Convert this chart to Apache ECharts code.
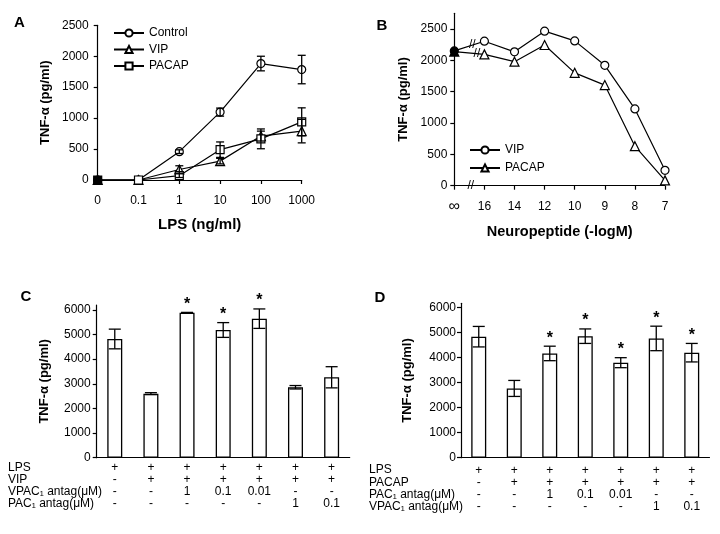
<!DOCTYPE html>
<html>
<head>
<meta charset="utf-8">
<title>TNF-α panels</title>
<script src="https://cdn.jsdelivr.net/npm/echarts@6/dist/echarts.min.js"></script>
<style>
  html, body { margin: 0; padding: 0; background: #fff; }
  #chart { width: 720px; height: 534px; }
</style>
</head>
<body>
<div id="chart"></div>
<script>
// ---- panel A: LPS dose response ----
var lpsDoses = ['0', '0.1', '1', '10', '100', '1000'];
var controlA = [0, 0, 458, 1097, 1882, 1785];
var controlErrA = [0, 0, 30, 65, 118, 230];
var vipA = [0, 0, 170, 305, 710, 790];
var vipErrA = [0, 0, 60, 45, 80, 190];
var pacapA = [0, 0, 70, 490, 665, 940];
var pacapErrA = [0, 0, 30, 125, 160, 226];
var ticksA = [0, 500, 1000, 1500, 2000, 2500];

// ---- panel B: neuropeptide dose response ----
var peptideDoses = ['∞', '16', '14', '12', '10', '9', '8', '7'];
var vipB = [2150, 2305, 2135, 2465, 2310, 1920, 1225, 245];
var pacapB = [2140, 2095, 1978, 2244, 1800, 1605, 630, 85];
var ticksB = [0, 500, 1000, 1500, 2000, 2500];

// ---- panel C: VIP + antagonists ----
var rowsC = ['LPS', 'VIP', 'VPAC₁ antag(μM)', 'PAC₁ antag(μM)'];
var lpsC = ['+', '+', '+', '+', '+', '+', '+'];
var vipC = ['-', '+', '+', '+', '+', '+', '+'];
var vpacC = ['-', '-', '1', '0.1', '0.01', '-', '-'];
var pacC = ['-', '-', '-', '-', '-', '1', '0.1'];
var meanC = [4820, 2600, 5890, 5185, 5645, 2860, 3265];
var errC = [400, 40, 10, 300, 395, 70, 430];
var starC = [0, 0, 1, 1, 1, 0, 0];

// ---- panel D: PACAP + antagonists ----
var rowsD = ['LPS', 'PACAP', 'PAC₁ antag(μM)', 'VPAC₁ antag(μM)'];
var lpsD = ['+', '+', '+', '+', '+', '+', '+'];
var pacapD = ['-', '+', '+', '+', '+', '+', '+'];
var pacD = ['-', '-', '1', '0.1', '0.01', '-', '-'];
var vpacD = ['-', '-', '-', '-', '-', '1', '0.1'];
var meanD = [4840, 2770, 4170, 4860, 3800, 4770, 4200];
var errD = [410, 320, 290, 290, 200, 490, 370];
var starD = [0, 0, 1, 1, 1, 1, 1];
var ticksCD = [0, 1000, 2000, 3000, 4000, 5000, 6000];

var FONT = '"Liberation Sans", Arial, sans-serif';
var chart = echarts.init(document.getElementById('chart'));

function columns(rows) {
  return rows[0].map(function (_, i) {
    return rows.map(function (r) { return r[i]; }).join('\n');
  });
}

function errData(means, errs, stars) {
  return means.map(function (m, i) { return [i, m, errs[i], stars ? stars[i] : 0]; });
}

function firstBlack(values) {
  return values.map(function (v, i) {
    return i === 0 ? { value: v, itemStyle: { color: '#000' } } : v;
  });
}

function errorBars(cap) {
  return function (params, api) {
    var x = api.value(0), m = api.value(1), e = api.value(2);
    var kids = [];
    var st = { stroke: '#000', lineWidth: 1.3 };
    var hi = api.coord([x, m + e]), lo = api.coord([x, m - e]);
    if (e > 0) {
      kids.push({ type: 'line', shape: { x1: hi[0], y1: hi[1], x2: lo[0], y2: lo[1] }, style: st });
      kids.push({ type: 'line', shape: { x1: hi[0] - cap / 2, y1: hi[1], x2: hi[0] + cap / 2, y2: hi[1] }, style: st });
      kids.push({ type: 'line', shape: { x1: lo[0] - cap / 2, y1: lo[1], x2: lo[0] + cap / 2, y2: lo[1] }, style: st });
    }
    if (api.value(3)) {
      kids.push({ type: 'text', style: { text: '*', x: hi[0], y: hi[1] - 8, align: 'center', verticalAlign: 'middle',
        font: 'bold 16px ' + FONT, fill: '#000' } });
    }
    return { type: 'group', children: kids };
  };
}

var axisLineStyle = { lineStyle: { color: '#000', width: 1.2 } };
var tickStyle = { show: true, length: 4, lineStyle: { color: '#000', width: 1.2 } };
var labelStyle = { color: '#000', fontSize: 12, fontFamily: FONT };
var plain = function (v) { return String(v); };
var yName = 'TNF-α (pg/ml)';
var yNameStyle = { color: '#000', fontSize: 13, fontWeight: 'bold', fontFamily: FONT };
var tableLabel = { interval: 0, color: '#000', fontSize: 12, fontFamily: FONT };

function lineSeries(name, data, symbol, size, axis) {
  return {
    name: name, type: 'line', xAxisIndex: axis, yAxisIndex: axis,
    data: firstBlack(data), symbol: symbol, symbolSize: size,
    lineStyle: { color: '#000', width: 1.2 },
    itemStyle: { color: '#fff', borderColor: '#000', borderWidth: 1.2 },
    z: 3
  };
}

function barSeries(data, axis) {
  return {
    type: 'bar', xAxisIndex: axis, yAxisIndex: axis, data: data, barWidth: 15,
    itemStyle: { color: '#fff', borderColor: '#000', borderWidth: 1.3 }
  };
}

function errSeries(data, axis, cap) {
  return {
    type: 'custom', xAxisIndex: axis, yAxisIndex: axis, data: data,
    renderItem: errorBars(cap), clip: false, z: 5
  };
}

function valueAxis(grid, max, ticks, margin, gap) {
  return {
    gridIndex: grid, type: 'value', min: 0, max: max,
    axisLine: Object.assign({ show: true }, axisLineStyle),
    axisTick: Object.assign({ customValues: ticks }, tickStyle),
    axisLabel: Object.assign({ margin: margin, customValues: ticks, formatter: plain }, labelStyle),
    splitLine: { show: false },
    name: yName, nameLocation: 'middle', nameGap: gap, nameTextStyle: yNameStyle
  };
}

var option = {
  animation: false,
  backgroundColor: '#fff',
  textStyle: { fontFamily: FONT },
  grid: [
    { left: 97.7, top: 25.3, width: 204, height: 154.7 },
    { left: 454.3, top: 13.3, width: 210.7, height: 172.4 },
    { left: 96.7, top: 305, width: 253, height: 152.7 },
    { left: 461, top: 303.3, width: 248.5, height: 154.4 }
  ],
  legend: [
    {
      data: ['Control', 'VIP', 'PACAP'], orient: 'vertical', left: 113, top: 27,
      itemWidth: 30, itemHeight: 9, itemGap: 4.5, padding: 0,
      textStyle: { color: '#000', fontSize: 12, fontFamily: FONT }
    },
    {
      data: ['VIP (B)', 'PACAP (B)'], orient: 'vertical', left: 469, top: 144,
      itemWidth: 30, itemHeight: 9, itemGap: 6, padding: 0,
      formatter: function (n) { return n.replace(' (B)', ''); },
      textStyle: { color: '#000', fontSize: 12, fontFamily: FONT }
    }
  ],
  xAxis: [
    {
      gridIndex: 0, type: 'category', data: lpsDoses, boundaryGap: false,
      axisLine: axisLineStyle, axisTick: tickStyle,
      axisLabel: Object.assign({ interval: 0, margin: 15 }, labelStyle),
      name: 'LPS (ng/ml)', nameLocation: 'middle', nameGap: 37,
      nameTextStyle: { color: '#000', fontSize: 15, fontWeight: 'bold', fontFamily: FONT }
    },
    {
      gridIndex: 1, type: 'category', data: peptideDoses, boundaryGap: false,
      axisLine: axisLineStyle, axisTick: tickStyle,
      axisLabel: Object.assign({
        interval: 0, margin: 15,
        formatter: function (v) { return v === '∞' ? '{inf|∞}' : v; },
        rich: { inf: { fontSize: 16, lineHeight: 12, fontFamily: FONT, color: '#000' } }
      }, labelStyle),
      name: 'Neuropeptide (-logM)', nameLocation: 'middle', nameGap: 39,
      nameTextStyle: { color: '#000', fontSize: 14.5, fontWeight: 'bold', fontFamily: FONT }
    },
    {
      gridIndex: 2, type: 'category', data: columns([lpsC, vipC, vpacC, pacC]),
      axisLine: axisLineStyle, axisTick: { show: false },
      axisLabel: Object.assign({ margin: 4, lineHeight: 12 }, tableLabel)
    },
    {
      gridIndex: 3, type: 'category', data: columns([lpsD, pacapD, pacD, vpacD]),
      axisLine: axisLineStyle, axisTick: { show: false },
      axisLabel: Object.assign({ margin: 6.5, lineHeight: 12.2 }, tableLabel)
    }
  ],
  yAxis: [
    valueAxis(0, 2500, ticksA, 9, 46),
    valueAxis(1, 2750, ticksB, 7, 44),
    valueAxis(2, 6200, ticksCD, 6, 46),
    valueAxis(3, 6175, ticksCD, 5, 47)
  ],
  series: [
    lineSeries('Control', controlA, 'circle', 8, 0),
    lineSeries('VIP', vipA, 'triangle', 9, 0),
    lineSeries('PACAP', pacapA, 'rect', 8, 0),
    errSeries(errData(controlA, controlErrA), 0, 8),
    errSeries(errData(vipA, vipErrA), 0, 8),
    errSeries(errData(pacapA, pacapErrA), 0, 8),
    lineSeries('VIP (B)', vipB, 'circle', 8, 1),
    lineSeries('PACAP (B)', pacapB, 'triangle', 9, 1),
    barSeries(meanC, 2),
    errSeries(errData(meanC, errC, starC), 2, 12),
    barSeries(meanD, 3),
    errSeries(errData(meanD, errD, starD), 3, 12)
  ]
};
chart.setOption(option);

// panel letters and table row labels
var graphics = [];
[['A', 19.5, 23], ['B', 382, 25.5], ['C', 26, 296.5], ['D', 380, 297.5]].forEach(function (p) {
  graphics.push({ type: 'text', x: p[1], y: p[2], style: { text: p[0], align: 'center', verticalAlign: 'middle',
    font: 'bold 15px ' + FONT, fill: '#000' } });
});
rowsC.forEach(function (t, i) {
  graphics.push({ type: 'text', x: 8, y: 467.3 + i * 12, style: { text: t, verticalAlign: 'middle',
    font: '12px ' + FONT, fill: '#000' } });
});
rowsD.forEach(function (t, i) {
  graphics.push({ type: 'text', x: 369, y: 470 + i * 12.2, style: { text: t, verticalAlign: 'middle',
    font: '12px ' + FONT, fill: '#000' } });
});

// axis-break marks in panel B, placed between the first two categories
function between(values, f) {
  var a = chart.convertToPixel({ gridIndex: 1 }, [0, values[0]]);
  var b = chart.convertToPixel({ gridIndex: 1 }, [1, values[1]]);
  return [a[0] + (b[0] - a[0]) * f, a[1] + (b[1] - a[1]) * f];
}
[between(vipB, 0.6), between(pacapB, 0.75), between([0, 0], 0.55)].forEach(function (p) {
  graphics.push({ type: 'text', x: p[0], y: p[1], z: 10, style: { text: '//', align: 'center', verticalAlign: 'middle',
    font: '12px ' + FONT, fill: '#000' } });
});
chart.setOption({ graphic: graphics });
</script>
</body>
</html>
